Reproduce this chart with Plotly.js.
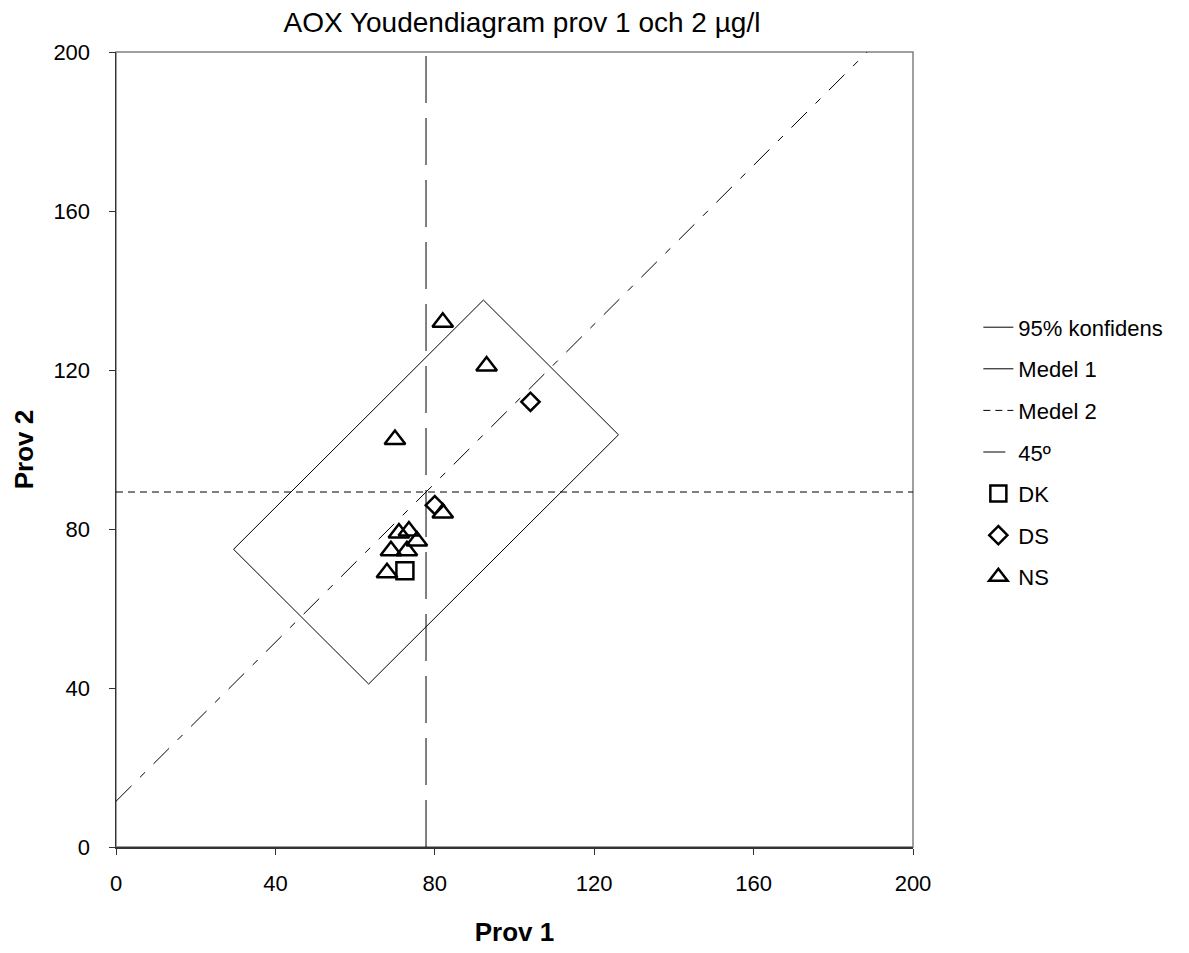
<!DOCTYPE html>
<html>
<head>
<meta charset="utf-8">
<script src="https://cdn.plot.ly/plotly-3.0.1.min.js"></script>
<style>html,body{margin:0;padding:0;background:#fff;}#chart{width:1189px;height:953px;}</style>
</head>
<body>
<div id="chart"></div>
<script>
// Confidence rectangle corners
const confX = [92.2, 126.1, 63.4, 29.5, 92.2];
const confY = [137.6, 103.7, 41.0, 74.9, 137.6];
// Means
const medel1X = [77.8, 77.8];
const medel1Y = [0, 200];
const medel2X = [0, 200];
const medel2Y = [89.3, 89.3];
// 45 degree line
const diagX = [0, 188.5];
const diagY = [11.5, 200];
// Laboratory results
const dkX = [72.5];
const dkY = [69.5];
const dsX = [104, 80];
const dsY = [112, 86];
const nsX = [82, 93, 70, 82, 73.5, 71, 75.5, 69, 73, 68];
const nsY = [132, 121, 102.5, 84, 79.5, 79, 77, 74.5, 74.5, 69];
const tickVals = [0, 40, 80, 120, 160, 200];
const tickText = ['0', '40', '80', '120', '160', '200'];

const FONT = 'Liberation Sans, Arial, sans-serif';

const traces = [
  {x: confX, y: confY, mode: 'lines', name: '95% konfidens', legendgroup: 'a',
   line: {color: '#000', width: 1}, hoverinfo: 'skip'},
  {x: medel1X, y: medel1Y, mode: 'lines', name: 'Medel 1', legendgroup: 'b',
   line: {color: '#000', width: 1, dash: '47px,15px'}},
  {x: medel2X, y: medel2Y, mode: 'lines', name: 'Medel 2', legendgroup: 'c',
   line: {color: '#000', width: 1, dash: '7px,5px'}},
  {x: diagX, y: diagY, mode: 'lines', name: '45º', legendgroup: 'd',
   line: {color: '#000', width: 1, dash: '22px,12px,7px,12px'}},
  {x: dkX, y: dkY, mode: 'markers', name: 'DK', legendgroup: 'e',
   marker: {symbol: 'square-open', size: 17, color: '#000', line: {width: 2.5, color: '#000'}}},
  {x: dsX, y: dsY, mode: 'markers', name: 'DS', legendgroup: 'f',
   marker: {symbol: 'diamond-open', size: 14, color: '#000', line: {width: 2.5, color: '#000'}}},
  {x: nsX, y: nsY, mode: 'markers', name: 'NS', legendgroup: 'g',
   marker: {symbol: 'triangle-up-open', size: 18, color: '#000', line: {width: 2.5, color: '#000'}}}
];

const axisCommon = {
  range: [0, 200], tickvals: tickVals, ticktext: tickText,
  showgrid: false, zeroline: false, showline: true, linecolor: '#333', linewidth: 1.5,
  ticks: 'outside', ticklen: 6, tickcolor: '#333', tickwidth: 1,
  tickfont: {family: FONT, size: 22, color: '#000'}
};

const layout = {
  width: 1189, height: 953,
  margin: {l: 116, r: 276, t: 52, b: 106, pad: 0},
  paper_bgcolor: '#fff', plot_bgcolor: '#fff',
  font: {family: FONT, color: '#000'},
  title: {text: 'AOX Youdendiagram prov 1 och 2 µg/l', font: {family: FONT, size: 28, color: '#000'},
          x: 0.439, xref: 'container', xanchor: 'center', y: 0.977, yref: 'container', yanchor: 'middle'},
  xaxis: Object.assign({}, axisCommon, {
    title: {text: '<b>Prov 1</b>', font: {family: FONT, size: 26, color: '#000'}, standoff: 28},
    ticklabelstandoff: 10
  }),
  yaxis: Object.assign({}, axisCommon, {
    title: {text: '<b>Prov 2</b>', font: {family: FONT, size: 26, color: '#000'}, standoff: 12},
    ticklabelstandoff: 14
  }),
  showlegend: true,
  legend: {x: 1.082, xanchor: 'left', y: 0.68, yanchor: 'top', font: {family: FONT, size: 22, color: '#000'},
           tracegroupgap: 10, bgcolor: 'rgba(0,0,0,0)', borderwidth: 0},
  shapes: [
    {type: 'rect', xref: 'paper', yref: 'paper', x0: 0, x1: 1, y0: 0, y1: 1,
     line: {color: '#808080', width: 1.5}, layer: 'below'}
  ]
};

Plotly.newPlot('chart', traces, layout, {staticPlot: true});
</script>
</body>
</html>
